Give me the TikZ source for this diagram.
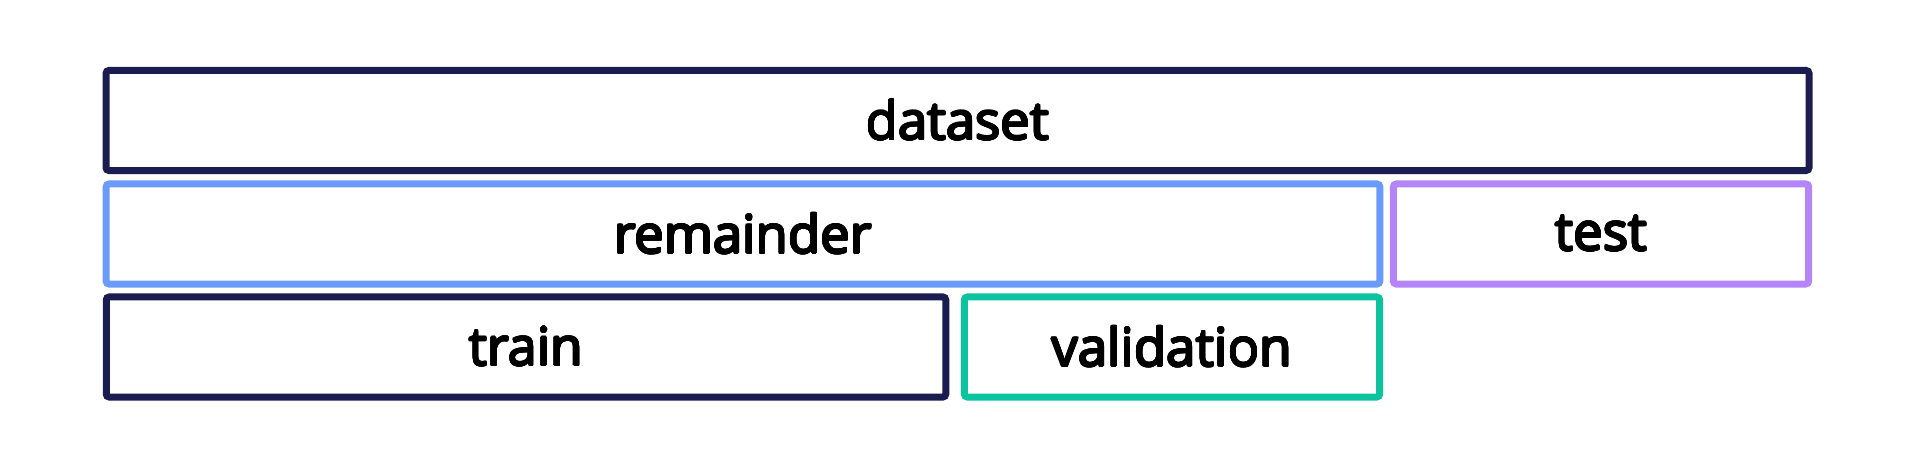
\documentclass[tikz,border=0pt]{standalone}
\usepackage{fontspec}
\usepackage{contour}
\newfontfamily\labelfont{Open Sans}
\contourlength{0.25pt}
\contournumber{16}
\usetikzlibrary{positioning}

\definecolor{navy}{HTML}{1B1C50}
\definecolor{remblue}{HTML}{6B9BF8}
\definecolor{testpurple}{HTML}{B385F8}
\definecolor{valgreen}{HTML}{0BC39F}

\newcommand{\boxlabel}[1]{\contour{black}{#1}}

\tikzset{
  splitbox/.style={draw=#1, line width=0.07cm, rounded corners=0.03cm,
    minimum height=1cm, inner sep=0pt, fill=white,
    font=\labelfont\fontsize{15}{18}\selectfont}
}

\begin{document}
\begin{tikzpicture}[x=0.01cm, y=0.01cm]
  \useasboundingbox[fill=white] (0,0) rectangle (1913,452);

    % Full dataset
    \node[splitbox=navy, minimum width=17.02cm] (dataset) at (957.5,331.5) {\boxlabel{dataset}};

    % First split
    \node[splitbox=remblue, minimum width=12.73cm] (remainder) at (743,218) {\boxlabel{remainder}};
    \node[splitbox=testpurple, minimum width=4.15cm] (test) at (1601,218) {\boxlabel{test}};

    % Second split
    \node[splitbox=navy, minimum width=8.39cm] (train) at (526,105) {\boxlabel{train}};
    \node[splitbox=valgreen, minimum width=4.15cm] (validation) at (1172,105) {\boxlabel{validation}};

\end{tikzpicture}
\end{document}
